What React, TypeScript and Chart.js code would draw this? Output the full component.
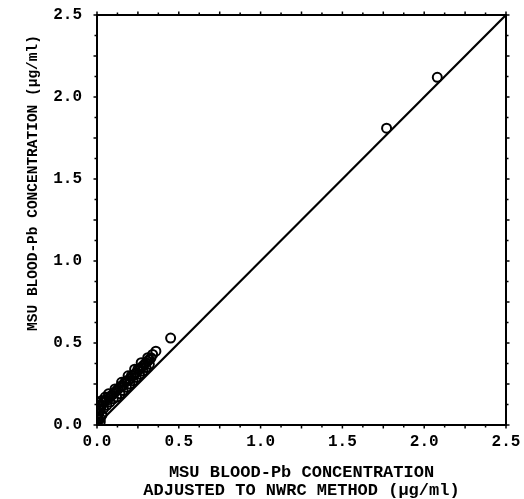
import React, { useEffect, useRef } from "react";
import { Chart, registerables } from "chart.js";

Chart.register(...registerables);

const xValues = [0.0, 0.01, 0.0, 0.01, 0.02, 0.01, 0.02, 0.03, 0.04, 0.05, 0.06, 0.07, 0.08, 0.09, 0.1, 0.11, 0.12, 0.13, 0.14, 0.15, 0.16, 0.17, 0.18, 0.19, 0.2, 0.21, 0.22, 0.23, 0.24, 0.25, 0.26, 0.27, 0.28, 0.29, 0.3, 0.31, 0.32, 0.33, 0.36, 0.45, 1.77, 2.08,
  0.0, 0.01, 0.0, 0.02, 0.03, 0.02, 0.04, 0.06, 0.08, 0.1, 0.12, 0.14, 0.16, 0.18, 0.2, 0.22, 0.24, 0.26, 0.28, 0.3, 0.32, 0.03, 0.05, 0.07, 0.11, 0.15, 0.19, 0.23, 0.27, 0.31, 0.34];
const yValues = [0.01, 0.03, 0.05, 0.07, 0.04, 0.1, 0.12, 0.12, 0.14, 0.15, 0.15, 0.17, 0.17, 0.18, 0.19, 0.2, 0.21, 0.22, 0.23, 0.24, 0.24, 0.26, 0.27, 0.27, 0.28, 0.3, 0.3, 0.31, 0.32, 0.34, 0.34, 0.35, 0.36, 0.37, 0.38, 0.39, 0.4, 0.41, 0.45, 0.53, 1.81, 2.12,
  0.09, 0.12, 0.14, 0.02, 0.06, 0.09, 0.1, 0.12, 0.14, 0.16, 0.17, 0.19, 0.21, 0.23, 0.25, 0.27, 0.29, 0.31, 0.33, 0.35, 0.37, 0.15, 0.17, 0.19, 0.22, 0.26, 0.3, 0.34, 0.38, 0.41, 0.43];
const lineX = [0, 2.5];
const lineY = [0, 2.5];
const tickValues = [0, 0.5, 1.0, 1.5, 2.0, 2.5];
const xTitleLines = ["MSU BLOOD-Pb CONCENTRATION", "ADJUSTED TO NWRC METHOD (\u00b5g/ml)"];
const yTitle = "MSU BLOOD-Pb CONCENTRATION (\u00b5g/ml)";

const MONO = "'Liberation Mono', 'DejaVu Sans Mono', monospace";

const framePlugin = {
  id: "frame",
  afterDraw(chart: any) {
    const { ctx, chartArea } = chart;
    const xs = chart.scales.x;
    const ys = chart.scales.y;
    const { left, right, top, bottom } = chartArea;
    ctx.save();
    ctx.strokeStyle = "#000";
    ctx.lineWidth = 2;
    ctx.strokeRect(left, top, right - left, bottom - top);
    ctx.lineWidth = 1.5;
    for (let i = 0; i <= 20; i++) {
      const v = i * 0.125;
      const len = i % 2 === 0 ? 3.5 : 2.5;
      const px = xs.getPixelForValue(v);
      const py = ys.getPixelForValue(v);
      ctx.beginPath();
      ctx.moveTo(px, top);
      ctx.lineTo(px, top - len);
      ctx.moveTo(px, bottom);
      ctx.lineTo(px, bottom + len);
      ctx.moveTo(left, py);
      ctx.lineTo(left - len, py);
      ctx.moveTo(right, py);
      ctx.lineTo(right + len, py);
      ctx.stroke();
    }
    ctx.fillStyle = "#000";
    ctx.textAlign = "center";
    ctx.textBaseline = "middle";
    ctx.font = `bold 17px ${MONO}`;
    const cx = (left + right) / 2;
    ctx.fillText(xTitleLines[0], cx, 473);
    ctx.fillText(xTitleLines[1], cx, 491);
    ctx.translate(33, 183);
    ctx.rotate(-Math.PI / 2);
    ctx.font = `bold 14.5px ${MONO}`;
    ctx.fillText(yTitle, 0, 0);
    ctx.restore();
  },
};

export default function App() {
  const ref = useRef<HTMLCanvasElement | null>(null);
  useEffect(() => {
    if (!ref.current) return;
    const points = xValues.map((x, i) => ({ x, y: yValues[i] }));
    const line = lineX.map((x, i) => ({ x, y: lineY[i] }));
    const tickFont = { family: MONO, size: 16, weight: "bold" as const };
    const chart = new Chart(ref.current, {
      type: "scatter",
      data: {
        datasets: [
          {
            type: "line",
            data: line,
            borderColor: "#000",
            borderWidth: 2.2,
            pointRadius: 0,
            fill: false,
          },
          {
            data: points,
            pointRadius: 4.5,
            pointBorderWidth: 2,
            borderColor: "#000",
            backgroundColor: "rgba(0,0,0,0)",
          },
        ],
      },
      options: {
        animation: false,
        responsive: true,
        maintainAspectRatio: false,
        layout: { padding: { left: 0, right: 18, top: 15, bottom: 0 } },
        plugins: { legend: { display: false }, tooltip: { enabled: false } },
        scales: {
          x: {
            type: "linear",
            min: 0,
            max: 2.5,
            grid: { display: false, drawTicks: false },
            border: { display: false },
            afterBuildTicks: (s: any) => {
              s.ticks = tickValues.map((v) => ({ value: v }));
            },
            afterFit: (s: any) => {
              s.height = 74;
              s.paddingLeft = 0;
              s.paddingRight = 0;
            },
            ticks: {
              padding: 7,
              color: "#000",
              font: tickFont,
              callback: (v: any) => Number(v).toFixed(1),
            },
          },
          y: {
            type: "linear",
            min: 0,
            max: 2.5,
            grid: { display: false, drawTicks: false },
            border: { display: false },
            afterBuildTicks: (s: any) => {
              s.ticks = tickValues.map((v) => ({ value: v }));
            },
            afterFit: (s: any) => {
              s.width = 97;
              s.paddingTop = 0;
              s.paddingBottom = 0;
            },
            ticks: {
              padding: 15,
              color: "#000",
              font: tickFont,
              callback: (v: any) => Number(v).toFixed(1),
            },
          },
        },
      },
      plugins: [framePlugin],
    });
    return () => chart.destroy();
  }, []);
  return (
    <div style={{ position: "absolute", left: 0, top: 0, width: 524, height: 499, background: "#fff" }}>
      <canvas ref={ref} />
    </div>
  );
}
